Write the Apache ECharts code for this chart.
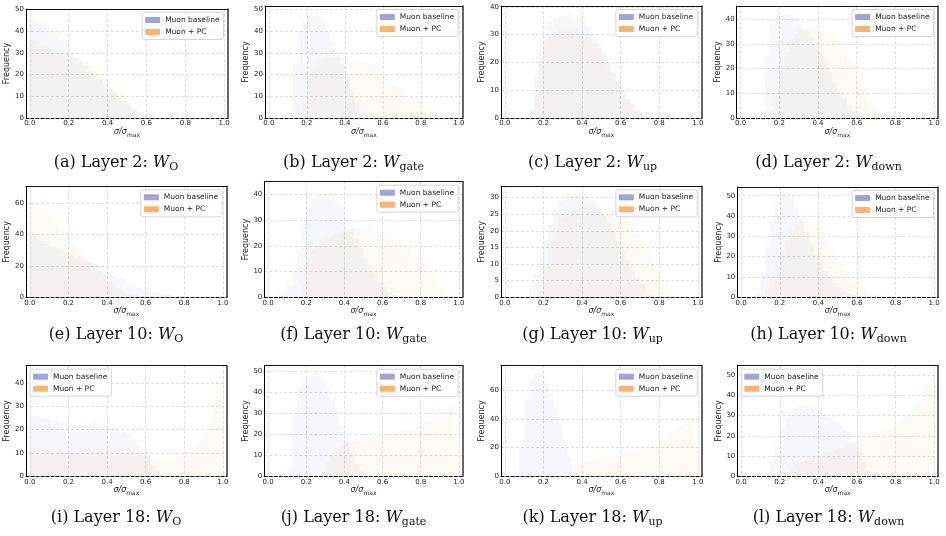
<!DOCTYPE html>
<html><head><meta charset="utf-8">
<script src="https://cdn.jsdelivr.net/npm/echarts@6/dist/echarts.min.js"></script>
<style>html,body{margin:0;padding:0;background:#fff}#c{width:946px;height:536px}</style>
</head><body><div id="c"></div>
<script>
// ---------- data ----------
const binEdges = [0.000,0.025,0.050,0.075,0.100,0.125,0.150,0.175,0.200,0.225,
                  0.250,0.275,0.300,0.325,0.350,0.375,0.400,0.425,0.450,0.475,
                  0.500,0.525,0.550,0.575,0.600,0.625,0.650,0.675,0.700,0.725,
                  0.750,0.775,0.800,0.825,0.850,0.875,0.900,0.925,0.950,0.975];
const binRightEdge = 1.0;
const xTicks = [0, 0.2, 0.4, 0.6, 0.8, 1.0];
const seriesNames = ['Muon baseline', 'Muon + PC'];

// (a) Layer 2 W_O
const L2_O_base = [46,45,44,42,40,38,36,33,30,28,26,24,22,20,18,16,14,12,10,8,6,4,3,2,1,0,0,0,0,0,0,0,0,0,0,0,0,0,0,0];
const L2_O_pc   = [36,35,34,33,32,31,30,30,29,28,27,26,24,22,20,18,16,14,12,10,7,5,3,1,0,0,0,0,0,0,0,0,0,0,0,0,0,0,0,0];
// (b) Layer 2 W_gate
const L2_gate_base = [0,0,0,0,0,25,40,45,47,47,47,45,40,35,30,25,18,12,7,3,1,0,0,0,0,0,0,0,0,0,0,0,0,0,0,0,0,0,0,0];
const L2_gate_pc   = [0,0,0,0,0,0,0,8,18,23,26,27,28,28,28,28,28,27,27,26,26,25,24,22,20,18,15,13,11,9,7,5,4,3,2,2,1,1,0.5,0];
// (c) Layer 2 W_up
const L2_up_base = [0,0,0,0,0,3,15,28,33,35,36,37,37,37,36,36,35,33,30,27,24,20,17,13,10,7,5,3,1.5,0.5,0,0,0,0,0,0,0,0,0,0];
const L2_up_pc   = [0,0,0,0,0,0,8,20,27,30,31,32,32,32,32,31,30,29,27,25,22,19,16,13,10,7,5,3,2,1,0,0,0,0,0,0,0,0,0,0];
// (d) Layer 2 W_down
const L2_down_base = [0,0,0,0,3,25,38,41,42,42,42,40,38,36,33,30,27,23,19,15,11,8,5,3,1,0,0,0,0,0,0,0,0,0,0,0,0,0,0,0];
const L2_down_pc   = [0,0,0,0,0,0,3,10,20,27,31,34,36,37,37,37,36,35,34,32,30,27,23,19,15,11,7,4,2,1,0.5,0.3,0,0,0,0,0,0,0,0];
// (e) Layer 10 W_O
const L10_O_base = [40,38,36,34,32,31,30,28,27,25,24,23,22,21,20,18,16,14,12,11,9,8,6,5,4,3,3,2,2,1,0,0,0,0,0,0,0,0,0,0];
const L10_O_pc   = [61,59,56,53,49,46,43,40,36,33,29,26,23,20,16,13,10,8,6,4,2.5,1.5,0.5,0,0,0,0,0,0,0,0,0,0,0,0,0,0,0,0,0];
// (f) Layer 10 W_gate
const L10_gate_base = [0,0,1,2,5,10,18,28,35,38,40,40,40,39,37,35,31,27,23,19,15,12,9,6,4,2,1,0,0,0,0,0,0,0,0,0,0,0,0,0];
const L10_gate_pc   = [0,0,0,0,0,0,0,5,14,18,20,22,23,24,25,26,26,27,27,27,27,27,26,26,25,24,23,22,21,20,18,16,13,10,8,5,3,1.5,0.5,0];
// (g) Layer 10 W_up
const L10_up_base = [0,0,0,0,0.5,3,7,12,17,22,26,29,30,31,31,31,31,30,29,27,25,23,20,17,14,11,8,6,4,2,1,0,0,0,0,0,0,0,0,0];
const L10_up_pc   = [0,0,0,0,0,0,0,2,10,17,21,24,25,26,27,27,28,28,28,27,27,26,26,25,24,23,21,19,17,14,11,8,5,3,1.5,0.5,0,0,0,0];
// (h) Layer 10 W_down
const L10_down_base = [0,0,0,2,12,25,38,46,51,52,49,44,38,32,26,21,17,13,10,7,5,3,2,1,0.5,0,0,0,0,0,0,0,0,0,0,0,0,0,0,0];
const L10_down_pc   = [0,0,0,0,1,4,9,15,22,28,33,36,38,38,37,35,32,29,25,21,17,14,11,8,6,4.5,3,2,1.5,1,0.5,0,0,0,0,0,0,0,0,0];
// (i) Layer 18 W_O
const L18_O_base = [26,26,25,25,24,24,23,23,22,22,22,22,22,23,22,22,21,21,20,19,18,16,13,11,9,5,3,1,0,0,0,0,0,0,0,0,0,0,0,0];
const L18_O_pc   = [11,10,10,11,10,10,11,10,10,10,11,10,10,10,11,10,10,10,11,10,10,10,10,9,9,8,7,7,7,7,8,9,10,11,13,15,18,23,32,44];
// (j) Layer 18 W_gate
const L18_gate_base = [0,0,0,0,3,30,42,45,47,48,48,46,42,37,31,24,17,11,6,3,1,0,0,0,0,0,0,0,0,0,0,0,0,0,0,0,0,0,0,0];
const L18_gate_pc   = [0,0,0,0,0,0,0,0,0,0,0,2,7,11,13,15,16,17,17,18,18,19,19,20,20,20,21,21,22,22,23,24,25,26,27,28,30,32,33,15];
// (k) Layer 18 W_up
const L18_up_base = [0,0,0,25,55,68,72,71,66,58,48,38,26,13,2,0,0,0,0,0,0,0,0,0,0,0,0,0,0,0,0,0,0,0,0,0,0,0,0,0];
const L18_up_pc   = [0,0,0,0,0,0,0,0,0,0,0,0,0,3,6,8,10,11,12,13,14,14,15,16,17,17,18,19,20,21,22,23,25,27,29,32,35,39,42,20];
// (l) Layer 18 W_down
const L18_down_base = [0,0,0,0,0,2,8,16,24,29,32,34,35,35,34,34,33,31,29,27,25,23,21,17,12,7,3,1,0,0,0,0,0,0,0,0,0,0,0,0];
const L18_down_pc   = [0,0,0,0,0,0,0,0,1,2,4,6,7,8,9,10,11,12,12,13,14,15,16,17,18,18,19,20,21,22,23,24,26,28,30,33,36,40,45,51];

const panelLetters = ['a','b','c','d','e','f','g','h','i','j','k','l'];
const panelLayers  = [2,2,2,2,10,10,10,10,18,18,18,18];
const panelMats    = ['O','gate','up','down','O','gate','up','down','O','gate','up','down'];
const panelBase = [L2_O_base,L2_gate_base,L2_up_base,L2_down_base,L10_O_base,L10_gate_base,L10_up_base,L10_down_base,L18_O_base,L18_gate_base,L18_up_base,L18_down_base];
const panelPC   = [L2_O_pc,L2_gate_pc,L2_up_pc,L2_down_pc,L10_O_pc,L10_gate_pc,L10_up_pc,L10_down_pc,L18_O_pc,L18_gate_pc,L18_up_pc,L18_down_pc];
const yMaxes = [50.2,51.6,40.3,45.4,70.6,44.9,33.4,54.3,47.4,52.5,77.2,54.6];
const yTicks = [
  [0,10,20,30,40,50],[0,10,20,30,40,50],[0,10,20,30,40],[0,10,20,30,40],
  [0,20,40,60],[0,10,20,30,40],[0,5,10,15,20,25,30],[0,10,20,30,40,50],
  [0,10,20,30,40],[0,10,20,30,40,50],[0,20,40,60],[0,10,20,30,40,50]];

// ---------- layout & style ----------
const boxes = [ // plot box edges [left, top, right, bottom] in px
  [26,9,228,118],[265,6,462.7,118],[501,6,701.7,118],[736.7,6,938,118],
  [26,186.3,226.7,297.3],[264.3,181.7,462.7,297.3],[501,186.3,701.7,297.3],[737.3,187,938,297.3],
  [26,365.7,226.7,476.3],[264.3,365.7,462.7,476.3],[501,365.7,701.7,476.3],[737.3,365.7,938,476.3]];
const captionCenters = [116,353.5,592.5,828.5];
const captionTops = [152.5,325,507.5];
const legendOnLeft = [false,false,false,false,false,false,false,false,true,false,false,true];
const X_MIN = -0.02, X_MAX = 1.02;
const BASE_FILL = 'rgba(70,90,210,0.05)';
const PC_FILL = 'rgba(255,140,30,0.055)';
const BASE_LEG = '#9da5df';
const PC_LEG = '#ffb26c';
const SANS = 'DejaVu Sans';
const SERIF = 'DejaVu Serif';
const gridLine = {show:true, lineStyle:{color:'#d4d4d4', type:[3,2], width:0.8}};

const option = {animation:false, backgroundColor:'#fff',
  grid:[], xAxis:[], yAxis:[], series:[], legend:[], title:[]};

const toPoints = vals => binEdges.map((x,k)=>[x, vals[k]]).concat([[binRightEdge, 0]]);

panelLetters.forEach((letter, i) => {
  const [L,T,R,B] = boxes[i];
  option.grid.push({left:L, top:T, width:R-L, height:B-T, containLabel:false, outerBoundsMode:'none'});
  // bottom x axis (dashed zero line)
  option.xAxis.push({type:'value', gridIndex:i, min:X_MIN, max:X_MAX, position:'bottom',
    axisLine:{show:true, onZero:false, lineStyle:{color:'#000', type:[3,2], width:1.2}},
    axisTick:{show:false, customValues:xTicks},
    axisLabel:{customValues:xTicks, formatter:v=>Number(v).toFixed(1), fontSize:7, color:'#222', fontFamily:SANS, margin:2},
    splitLine:gridLine,
    name:'{i|σ/σ}{s|max}', nameLocation:'middle', nameGap:8,
    nameTextStyle:{rich:{
      i:{fontFamily:SANS, fontStyle:'italic', fontSize:8, color:'#222', lineHeight:12},
      s:{fontFamily:SANS, fontSize:6, color:'#222', lineHeight:8, verticalAlign:'bottom'}}}
  });
  // top spine
  option.xAxis.push({type:'value', gridIndex:i, min:X_MIN, max:X_MAX, position:'top',
    axisLine:{show:true, onZero:false, lineStyle:{color:'#111', width:1}},
    axisTick:{show:false}, axisLabel:{show:false}, splitLine:{show:false}});
  // left y axis
  option.yAxis.push({type:'value', gridIndex:i, min:0, max:yMaxes[i], position:'left',
    axisLine:{show:true, onZero:false, lineStyle:{color:'#000', width:1}},
    axisTick:{show:false, customValues:yTicks[i]},
    axisLabel:{customValues:yTicks[i], fontSize:7, color:'#222', fontFamily:SANS, margin:2},
    splitLine:gridLine,
    name:'Frequency', nameLocation:'middle', nameGap:11,
    nameTextStyle:{fontSize:8, fontFamily:SANS, color:'#222'}});
  // right spine
  option.yAxis.push({type:'value', gridIndex:i, min:0, max:yMaxes[i], position:'right',
    axisLine:{show:true, onZero:false, lineStyle:{color:'#333', width:1.5}},
    axisTick:{show:false}, axisLabel:{show:false}, splitLine:{show:false}});

  option.series.push({type:'line', name:seriesNames[0], xAxisIndex:2*i, yAxisIndex:2*i,
    step:'end', data:toPoints(panelBase[i]), symbol:'none', showSymbol:false, silent:true,
    color:BASE_LEG, lineStyle:{width:0, opacity:0}, areaStyle:{color:BASE_FILL, opacity:1}, z:2});
  option.series.push({type:'line', name:seriesNames[1], xAxisIndex:2*i, yAxisIndex:2*i,
    step:'end', data:toPoints(panelPC[i]), symbol:'none', showSymbol:false, silent:true,
    color:PC_LEG, lineStyle:{width:0, opacity:0}, areaStyle:{color:PC_FILL, opacity:1}, z:3});

  const leg = {orient:'vertical', top:T+3.5, icon:'rect', itemWidth:15, itemHeight:6, itemGap:3,
    selectedMode:false, padding:[3,4,3,3], backgroundColor:'rgba(255,255,255,0.85)',
    borderColor:'#cccccc', borderWidth:0.8, borderRadius:2,
    textStyle:{fontSize:7.5, fontFamily:SANS, color:'#222', lineHeight:9},
    data:[{name:seriesNames[0], itemStyle:{color:BASE_LEG}}, {name:seriesNames[1], itemStyle:{color:PC_LEG}}]};
  if (legendOnLeft[i]) leg.left = L + 4; else leg.right = 946 - (R - 4.5);
  option.legend.push(leg);

  option.title.push({
    text:'(' + letter + ') Layer ' + panelLayers[i] + ': {w|W}{s|' + panelMats[i] + '}',
    left:captionCenters[i % 4], top:captionTops[Math.floor(i/4)], textAlign:'center', padding:0,
    textStyle:{fontFamily:SERIF, fontSize:16, fontWeight:'normal', color:'#111', lineHeight:20,
      rich:{
        w:{fontFamily:SERIF, fontStyle:'italic', fontSize:16, color:'#111', lineHeight:20},
        s:{fontFamily:SERIF, fontSize:11, color:'#111', lineHeight:11, verticalAlign:'bottom'}}}
  });
});

const chart = echarts.init(document.getElementById('c'), null, {renderer:'canvas'});
chart.setOption(option);
</script>
</body></html>
